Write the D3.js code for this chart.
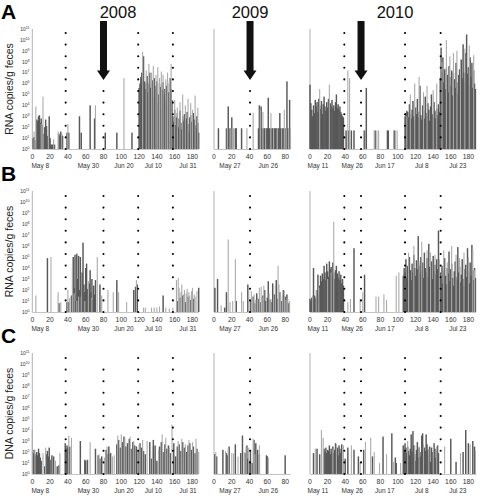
<!DOCTYPE html>
<html><head><meta charset="utf-8">
<script src="https://cdn.jsdelivr.net/npm/d3@7/dist/d3.min.js"></script>
<style>body{margin:0;background:#fff}svg{display:block}</style>
</head><body>
<svg id="chart" width="480" height="501"></svg>
<script>
// ---------------- DATA (values are log10 copies/g, x = day of sampling) ----------------
const years = ["2008", "2009", "2010"];
const dayMax = [187, 86, 189];
const xTicks2008 = [0, 20, 40, 60, 80, 100, 120, 140, 160, 180];
const xTicks2009 = [0, 20, 40, 60, 80];
const xTicks2010 = [0, 20, 40, 60, 80, 100, 120, 140, 160, 180];
const dateLabels2008 = ["May 8", "May 30", "Jun 20", "Jul 10", "Jul 31"];
const dateDays2008 = [9, 63, 103, 136, 175];
const dateLabels2009 = ["May 27", "Jun 26"];
const dateDays2009 = [18, 61];
const dateLabels2010 = ["May 11", "May 26", "Jun 17", "Jul 8", "Jul 23"];
const dateDays2010 = [9, 48, 85, 127, 168];
const eventDays2008 = [37.5, 80, 119, 158];
const eventDays2009 = [40.5];
const eventDays2010 = [39, 58, 108, 148.5];
const arrowDays = [80, 40.5, 58];
const yTickExps = [0, 1, 2, 3, 4, 5, 6, 7, 8, 9, 10, 11];
const rowLetters = ["A", "B", "C"];
const rowTitles = ["RNA copies/g feces", "RNA copies/g feces", "DNA copies/g feces"];

// Panel A (RNA)
const A2008dark = [[1,1.0],[2,1.1],[3,0.8],[5,2.7],[6,2.6],[7,3.0],[8,3.1],[9,2.4],[10,2.8],[11,2.2],[13,1.4],[14,2.0],[15,2.7],[16,2.1],[17,1.2],[19,3.0],[20,1.0],[21,0.4],[22,0.4],[23,0.4],[24,0.4],[25,0.4],[30,1.4],[31,1.2],[32,1.6],[33,1.3],[34,1.2],[39,1.5],[41,1.5],[53,3.0],[55,1.5],[65,4.0],[70,2.8],[82,1.5],[95,1.5],[112,1.5],
 [120,5.6],[121,6.0],[122,6.6],[123,7.0],[124,6.4],[125,8.5],[126,6.2],[127,5.5],[128,6.1],[129,6.7],[130,5.2],[131,6.0],[132,7.0],[133,5.6],[134,5.9],[135,6.3],[136,4.8],[137,6.5],[138,5.8],[139,5.5],[140,6.2],[141,4.2],[142,5.0],[143,6.0],[144,5.7],[145,3.6],[146,5.4],[147,6.1],[148,5.0],[149,5.5],[150,4.4],[151,5.8],[152,6.0],[153,5.2],[154,4.8],[155,6.5],[156,5.5],[157,4.5],
 [158,3.0],[159,2.5],[160,3.6],[161,2.2],[162,2.9],[163,3.3],[164,2.0],[165,2.8],[166,3.5],[167,2.4],[168,1.8],[169,3.0],[170,2.6],[171,3.2],[172,2.1],[173,2.8],[174,3.4],[175,2.3],[176,1.6],[177,2.9],[178,3.1],[179,2.5],[180,2.0],[181,3.3],[182,2.7],[183,2.2],[184,1.9],[185,3.0],[186,2.4],[187,1.5]];
const A2008light = [[2,1.6],[4,3.9],[10,2.3],[12,4.8],[18,1.8],[24,0.9],[29,1.6],[33,1.5],[40,2.3],[71,4.0],[103,6.5],[124,8.9],[128,7.2],[131,7.8],[134,7.0],[136,7.6],[139,6.8],[141,7.5],[143,6.5],[145,7.1],[147,6.8],[150,6.4],[152,7.0],[154,6.2],[156,7.8],[160,4.5],[163,3.8],[166,4.3],[169,5.0],[172,4.0],[175,4.6],[178,4.2],[180,3.6],[183,4.9],[186,3.8]];
const A2009dark = [[5,1.9],[14,1.9],[16,3.9],[18,1.9],[20,2.9],[24,1.9],[25,1.9],[31,1.9],[50,1.9],[51,4.0],[53,3.9],[54,1.9],[56,1.9],[57,1.9],[59,1.9],[60,1.9],[61,4.7],[62,1.9],[63,1.9],[65,1.9],[66,1.9],[68,1.9],[69,1.9],[70,1.9],[72,1.9],[73,1.9],[74,3.3],[75,1.9],[77,1.9],[78,1.9],[80,1.9],[82,6.2],[83,1.9],[85,4.5]];
const A2009light = [[15,1.9],[19,1.9],[22,1.9],[37,1.9],[44,3.3],[52,3.6],[55,3.4],[58,1.9],[64,3.3],[67,1.9],[71,1.9],[76,1.9],[79,3.6],[81,1.9],[84,1.9],[86,1.9]];
const A2010dark = [[0,5.9],[1,4.2],[2,3.6],[3,3.0],[4,4.0],[5,3.3],[6,4.5],[7,3.9],[8,4.3],[9,3.4],[10,4.6],[11,4.0],[12,3.7],[13,4.4],[14,3.2],[15,4.1],[16,4.8],[17,3.9],[18,3.5],[19,4.3],[20,3.8],[21,4.6],[22,3.6],[23,4.2],[24,3.9],[25,4.5],[26,3.7],[27,4.0],[28,3.5],[29,4.3],[30,5.0],[31,3.8],[32,4.1],[33,3.6],[34,3.9],[35,3.4],[36,3.2],[37,3.0],[38,2.9],
 [41,1.7],[44,1.7],[47,1.7],[50,1.7],[62,1.7],[64,5.6],[74,1.7],[88,1.7],[89,1.7],[96,1.7],
 [108,3.0],[109,3.3],[110,3.5],[111,3.4],[112,2.9],[113,4.1],[114,3.2],[115,2.8],[116,3.6],[117,4.4],[118,3.0],[119,2.6],[120,3.8],[121,3.2],[122,4.6],[123,2.9],[124,3.4],[125,5.8],[126,3.1],[127,2.7],[128,4.0],[129,3.5],[130,2.8],[131,4.8],[132,3.3],[133,3.0],[134,4.2],[135,3.6],[136,2.6],[137,3.9],[138,5.0],[139,3.2],[140,2.9],[141,4.3],[142,3.5],[143,2.8],[144,3.7],[145,3.1],[146,4.1],[147,3.4],
 [148,6.5],[149,9.3],[150,7.0],[151,8.4],[152,6.1],[153,7.3],[154,5.5],[155,7.4],[156,6.8],[157,5.2],[158,7.6],[159,6.6],[160,5.8],[161,7.2],[162,4.9],[163,7.0],[164,6.4],[165,5.6],[166,7.9],[167,6.1],[168,5.0],[169,6.8],[170,7.3],[171,5.9],[172,8.2],[173,6.5],[174,9.6],[175,7.0],[176,6.2],[177,8.8],[178,10.5],[179,6.9],[180,7.5],[181,5.8],[182,8.4],[183,6.6],[184,7.9],[185,5.6],[186,7.2],[187,6.0],[188,5.5]];
const A2010light = [[11,5.5],[22,5.9],[43,7.2],[45,6.5],[61,1.7],[73,1.7],[76,1.7],[78,1.7],[95,1.7],[97,1.7],[99,1.7],[110,3.0],[114,5.0],[119,6.0],[124,6.6],[129,5.2],[133,5.8],[140,5.4],[144,6.0],[150,8.0],[155,10.0],[159,8.5],[163,8.8],[167,9.0],[171,8.2],[176,9.2],[181,9.5],[186,8.6]];

// Panel B (RNA)
const B2008dark = [[17,4.9],[30,0.8],[39,0.9],[41,0.9],[44,1.5],[46,5.0],[47,2.2],[48,5.2],[49,1.0],[50,5.3],[51,3.0],[52,5.1],[53,2.0],[54,5.0],[55,1.3],[56,3.6],[57,6.3],[58,2.5],[59,1.8],[60,4.0],[61,4.4],[62,2.1],[63,1.5],[64,2.6],[65,3.8],[66,1.8],[67,3.0],[68,1.1],[69,2.4],[70,1.6],[71,2.9],[76,2.5],[95,2.9],[114,2.0],[116,2.3],[118,2.5],[147,1.5],[163,1.0],[166,1.3],[169,1.5],[172,0.9],[175,1.4],[178,1.1],[181,1.2],[187,2.2]];
const B2008light = [[4,1.5],[21,5.0],[29,1.8],[32,0.9],[40,2.0],[42,1.3],[45,4.0],[47,1.7],[50,1.0],[52,1.4],[55,1.4],[59,1.0],[63,2.8],[67,1.3],[73,5.0],[78,1.5],[85,2.0],[91,1.8],[97,1.8],[106,0.9],[117,2.9],[125,0.4],[127,0.4],[134,0.4],[137,0.4],[140,0.4],[143,0.5],[150,0.4],[154,0.3],[158,0.4],[162,2.9],[164,3.1],[165,2.2],[167,1.8],[168,2.5],[170,1.6],[171,2.0],[173,1.7],[174,2.1],[176,1.8],[177,1.5],[179,1.9],[180,2.2],[182,1.6],[183,1.4],[185,1.9]];
const B2009dark = [[1,2.2],[4,3.0],[12,0.4],[14,1.8],[25,1.0],[38,2.5],[41,1.0],[44,1.4],[46,0.8],[48,1.7],[50,1.2],[52,0.9],[55,1.5],[57,2.0],[58,1.0],[60,1.3],[61,2.8],[63,1.1],[65,0.9],[66,2.6],[68,1.6],[70,2.9],[71,1.2],[74,1.8],[76,1.0],[78,2.0],[80,1.4],[82,1.6],[84,0.8]];
const B2009light = [[8,0.6],[16,6.6],[18,0.9],[21,1.0],[24,4.8],[31,1.8],[33,1.0],[39,2.3],[42,1.9],[43,1.2],[45,1.6],[47,1.1],[49,1.4],[51,2.2],[53,2.3],[54,1.3],[56,2.4],[59,1.0],[62,1.7],[64,1.2],[67,1.3],[69,2.4],[72,4.2],[73,2.5],[75,1.4],[77,1.6],[79,1.9],[81,1.1],[83,1.2],[85,1.0]];
const B2010dark = [[0,1.2],[1,1.0],[2,1.3],[3,1.1],[4,4.0],[5,1.5],[6,1.2],[7,1.4],[8,2.0],[9,3.4],[10,1.6],[11,2.4],[12,3.3],[13,2.8],[14,3.5],[15,3.0],[16,4.2],[17,3.6],[18,2.9],[19,4.4],[20,3.7],[21,3.2],[22,4.6],[23,3.9],[24,4.1],[25,3.3],[26,4.5],[27,3.6],[28,3.0],[29,3.8],[30,4.2],[31,3.5],[32,3.1],[33,3.7],[34,2.9],[35,3.4],[36,2.6],[37,3.0],[38,2.4],
 [50,5.8],[62,3.4],
 [106,3.3],[107,4.0],[108,3.6],[109,4.8],[110,3.1],[111,4.2],[112,3.5],[113,5.0],[114,3.8],[115,2.9],[116,4.4],[117,3.6],[118,5.2],[119,4.0],[120,3.3],[121,4.7],[122,3.9],[123,6.9],[124,4.2],[125,3.5],[126,5.0],[127,3.7],[128,4.5],[129,3.1],[130,5.4],[131,4.0],[132,3.6],[133,4.9],[134,3.2],[135,6.2],[136,4.1],[137,3.8],[138,4.6],[139,3.0],[140,5.1],[141,3.7],[142,4.3],[143,3.4],[144,4.8],[145,3.9],[146,7.4],[147,4.2],[148,3.6],
 [149,3.0],[150,4.2],[151,2.6],[152,3.8],[153,4.9],[154,3.3],[155,2.5],[156,4.0],[157,3.5],[158,5.5],[159,2.8],[160,3.9],[161,4.4],[162,3.1],[163,2.4],[164,3.7],[165,4.6],[166,3.2],[167,2.9],[168,5.9],[169,3.6],[170,4.1],[171,2.7],[172,3.4],[173,4.8],[174,3.0],[175,2.3],[176,3.9],[177,4.3],[178,3.2],[179,5.8],[180,3.6],[181,2.6],[182,4.5],[183,3.3],[184,6.1],[185,3.8],[186,2.9],[187,4.0],[188,3.1]];
const B2010light = [[3,1.5],[7,2.0],[10,2.2],[20,3.0],[24,3.6],[27,8.2],[43,0.9],[46,1.2],[57,1.2],[60,1.8],[75,1.4],[78,1.4],[84,1.6],[87,1.1],[98,3.3],[101,3.6],[112,5.4],[118,6.0],[124,4.6],[127,6.4],[133,5.6],[137,5.4],[142,5.2],[147,4.8],[152,5.6],[156,4.5],[161,6.0],[166,5.2],[170,4.9],[175,5.4],[180,5.0],[185,5.7],[187,3.8]];

// Panel C (DNA)
const C2008dark = [[1,1.9],[2,2.2],[3,1.6],[4,1.8],[5,2.0],[6,1.7],[7,2.3],[8,1.9],[9,1.5],[10,1.2],[14,0.7],[16,1.8],[17,2.1],[18,1.6],[19,2.4],[20,1.3],[22,1.7],[24,1.6],[28,0.7],[30,0.8],[37,2.8],[38,2.3],[39,2.6],[40,2.4],[42,2.5],[54,3.0],[59,1.3],[60,1.2],[62,1.3],[71,2.3],[74,1.7],[76,1.4],[78,1.6],[83,2.2],[85,1.8],[86,2.5],[88,1.9],[95,2.7],[97,3.1],[99,2.4],[101,2.9],[103,3.4],[105,2.5],[107,2.8],[109,3.2],[111,2.3],[113,2.9],[115,2.6],[117,2.5],[119,2.2],[121,2.8],[123,2.4],[125,2.1],[127,1.8],[132,2.9],[134,1.4],[136,3.1],[138,2.6],[140,1.2],[143,2.5],[145,2.9],[147,2.0],[149,2.7],[151,2.3],[153,2.6],[155,1.9],[159,2.8],[161,1.6],[163,2.5],[165,2.7],[167,2.1],[169,2.9],[171,2.4],[173,2.0],[175,2.6],[177,2.8],[179,2.2],[181,2.5],[183,1.9],[185,2.3]];
const C2008light = [[0,4.0],[3,2.2],[12,1.9],[15,2.4],[26,1.2],[31,1.9],[41,3.5],[44,3.3],[65,2.9],[75,1.8],[81,1.5],[84,2.5],[90,1.6],[92,1.7],[96,3.5],[100,3.6],[104,3.3],[110,3.4],[114,3.0],[120,2.7],[124,3.1],[129,3.0],[135,2.5],[142,2.2],[146,3.6],[150,3.3],[154,2.4],[157,4.5],[164,3.0],[168,3.2],[172,2.7],[176,3.1],[180,2.9],[184,3.2],[187,2.0]];
const C2009dark = [[1,1.8],[3,1.6],[10,2.2],[14,1.9],[15,1.7],[17,2.5],[24,2.7],[30,1.9],[32,3.5],[35,1.9],[37,2.6],[38,1.4],[40,1.2],[41,2.2],[43,1.0],[45,3.1],[47,2.8],[49,2.2],[51,1.8],[59,1.7],[60,1.6],[80,1.7]];
const C2009light = [[2,2.0],[13,2.1],[16,2.4],[20,1.9],[22,1.9],[27,1.6],[34,2.0],[36,2.5],[39,2.4],[44,3.2],[46,1.8],[51,2.6],[61,1.5]];
const C2010dark = [[4,1.9],[8,2.3],[11,1.8],[16,2.3],[17,2.0],[18,2.4],[19,1.9],[20,2.2],[21,2.1],[22,2.6],[23,1.8],[24,2.3],[25,2.0],[26,2.5],[27,1.9],[28,2.2],[29,2.8],[30,2.1],[31,2.4],[32,1.7],[33,2.6],[34,2.3],[35,1.9],[36,2.7],[40,1.4],[43,2.4],[50,2.2],[55,1.6],[61,2.2],[71,1.6],[83,3.4],[93,3.7],[97,1.5],[98,1.0],
 [106,2.6],[107,2.2],[108,2.8],[109,2.4],[110,1.9],[111,2.5],[112,2.1],[113,1.7],[114,2.3],[115,3.6],[116,2.0],[117,3.9],[118,2.6],[119,1.8],[120,1.2],[121,2.2],[122,2.9],[123,1.5],[124,2.4],[125,2.0],[126,1.6],[127,3.5],[128,3.7],[129,1.8],[130,2.4],[131,2.1],[132,3.6],[133,2.7],[134,2.2],[135,1.7],[136,2.5],[137,1.1],[138,2.4],[139,2.0],[140,1.6],[141,2.8],[142,2.3],[143,1.5],[144,2.1],[145,2.6],[146,1.9],
 [160,3.2],[166,1.1],[174,2.0],[177,4.0],[180,2.8],[185,3.0],[187,2.5]];
const C2010light = [[6,2.3],[13,4.0],[15,3.3],[26,2.2],[30,2.7],[38,2.6],[47,2.6],[57,1.1],[63,2.9],[69,3.3],[73,2.0],[79,1.0],[87,1.8],[95,1.1],[103,1.0],[111,3.0],[119,2.6],[124,2.5],[129,2.7],[135,2.3],[140,2.4],[144,2.5],[153,2.5],[171,1.9],[178,2.8],[182,2.7],[188,2.1]];

// ---------------- LAYOUT ----------------
const svg = d3.select("#chart");
const FONT = "Arial, 'Liberation Sans', sans-serif";
const DARK = "#585858", LIGHT = "#ababab";
const colX = [[32.3, 198.7], [214, 290.5], [310, 476.3]];
const rowY = [[149, 29], [312, 191], [474, 353]];

const xTicks = [xTicks2008, xTicks2009, xTicks2010];
const dateLabels = [dateLabels2008, dateLabels2009, dateLabels2010];
const dateDays = [dateDays2008, dateDays2009, dateDays2010];
const eventDays = [eventDays2008, eventDays2009, eventDays2010];
const series = [
  [[A2008dark, A2008light], [A2009dark, A2009light], [A2010dark, A2010light]],
  [[B2008dark, B2008light], [B2009dark, B2009light], [B2010dark, B2010light]],
  [[C2008dark, C2008light], [C2009dark, C2009light], [C2010dark, C2010light]]
];
// dotted event lines that begin lower (below arrows etc.): [row, col, eventIndex, topExp]
const partialLines = [[0,0,1,5.5],[0,1,0,5.5],[0,2,1,5.5],[2,0,1,9.8]];

const xScales = colX.map((r, i) => d3.scaleLinear().domain([0, dayMax[i]]).range(r));

rowY.forEach((ry, r) => {
  const y = d3.scaleLinear().domain([0, 11]).range(ry);
  const g = svg.append("g");

  svg.append("text").attr("x", 1).attr("y", ry[1] - 10).text(rowLetters[r])
    .attr("font-family", FONT).attr("font-weight", "bold").attr("font-size", 21).attr("fill", "#000");
  svg.append("text").attr("transform", `translate(12.5,${(ry[0] + ry[1]) / 2}) rotate(-90)`)
    .attr("text-anchor", "middle").attr("font-family", FONT).attr("font-size", 10.5).attr("fill", "#222")
    .text(rowTitles[r]);

  const yl = g.append("g");
  yTickExps.forEach(e => {
    const t = yl.append("text").attr("x", 29.5).attr("y", y(e) + 1.8).attr("text-anchor", "end")
      .attr("font-family", FONT).attr("font-size", 5).attr("fill", "#333");
    t.append("tspan").text("10");
    t.append("tspan").attr("dy", -2).attr("font-size", 3.6).text(e);
  });

  xScales.forEach((x, c) => {
    const pg = g.append("g");
    pg.append("line").attr("x1", x(0)).attr("x2", x(dayMax[c])).attr("y1", y(0) + 0.5).attr("y2", y(0) + 0.5)
      .attr("stroke", "#c4c4c4").attr("stroke-width", 1);
    pg.append("line").attr("x1", x(0)).attr("x2", x(0)).attr("y1", y(0)).attr("y2", y(11))
      .attr("stroke", "#a8a8a8").attr("stroke-width", 0.9);

    const [dark, light] = series[r][c];
    [[dark, DARK, 1.45], [light, LIGHT, 1.1]].forEach(([data, col, w]) => {
      pg.append("g").selectAll("rect").data(data).join("rect")
        .attr("x", d => x(d[0]) - w / 2).attr("width", w)
        .attr("y", d => y(d[1])).attr("height", d => y(0) - y(d[1]))
        .attr("fill", col);
    });

    eventDays[c].forEach((ed, k) => {
      const p = partialLines.find(q => q[0] === r && q[1] === c && q[2] === k);
      const top = p ? p[3] : 11;
      pg.append("line").attr("x1", x(ed)).attr("x2", x(ed)).attr("y1", y(0)).attr("y2", y(top) - 1)
        .attr("stroke", "#000").attr("stroke-width", 2.1).attr("stroke-linecap", "round")
        .attr("stroke-dasharray", "0,11.6");
    });

    pg.append("g").selectAll("text").data(xTicks[c]).join("text")
      .attr("x", d => x(d)).attr("y", y(0) + 9.5).attr("text-anchor", "middle")
      .attr("font-family", FONT).attr("font-size", 6.8).attr("fill", "#333").text(d => d);
    pg.append("g").selectAll("text").data(dateLabels[c]).join("text")
      .attr("x", (d, i) => x(dateDays[c][i])).attr("y", y(0) + 19).attr("text-anchor", "middle")
      .attr("font-family", FONT).attr("font-size", 6.5).attr("fill", "#333").text(d => d);
  });
});

const yearCenters = [118, 250, 395];
years.forEach((yr, c) => {
  svg.append("text").attr("x", yearCenters[c]).attr("y", 17.5).attr("text-anchor", "middle")
    .attr("font-family", FONT).attr("font-size", 16.5).attr("fill", "#111").text(yr);
  const ax = xScales[c](arrowDays[c]);
  const pts = [[ax - 3.5, 21], [ax + 3.5, 21], [ax + 3.5, 70.5], [ax + 6.5, 70.5], [ax, 80], [ax - 6.5, 70.5], [ax - 3.5, 70.5]];
  svg.append("path").attr("d", d3.line()(pts) + "Z").attr("fill", "#111");
});
</script>
</body></html>
